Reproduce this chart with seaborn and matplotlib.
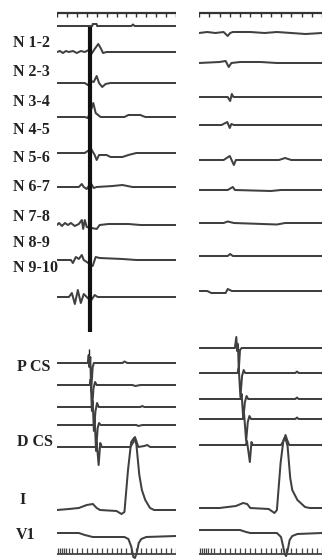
import numpy as np
import pandas as pd
import matplotlib
matplotlib.use("Agg")
import matplotlib.pyplot as plt
import seaborn as sns

# ---- data: time (ms) / deflection (arbitrary units, + is up) ----
# His-bundle / N-channels, left beat (paced) and right beat
left_n = [
    [(0, 0), (178, 0), (180, 2), (200, 2), (202, 0), (375, 0), (383, 1.5), (392, 0), (600, 0)],
    [(0, 0), (15, 1), (30, -1), (45, 1), (60, 0), (80, 1), (100, -1), (120, 1), (140, 0), (160, 2), (170, -3),
     (190, 3), (208, 8), (220, 4), (232, -1), (250, 0), (600, 0)],
    [(0, 0), (140, 0), (155, -2), (170, 2), (185, 1), (200, 7), (212, 0), (228, -4), (245, -1), (270, 0), (600, 0)],
    [(0, 0), (140, 0), (155, -1), (170, 6), (183, 14), (195, 4), (207, 2), (220, 0), (340, 0), (360, 2),
     (420, 2), (445, 0), (600, 0)],
    [(0, 0), (140, 0), (155, 2), (172, 4), (190, -2), (200, -7), (212, -2), (250, -2), (270, -4), (330, -4),
     (360, -2), (400, 0), (600, 0)],
    [(0, 0), (110, 0), (125, 3), (135, 0), (150, -2), (170, 4), (185, -1), (200, 0), (280, 1), (330, 2),
     (380, 0), (600, 0)],
    [(0, 0), (10, 2), (25, -1), (40, 2), (55, 0), (70, 2), (90, -1), (110, 1), (125, 5), (132, -4), (140, 5),
     (150, -2), (200, -4), (215, 0), (260, 1), (360, 1), (420, 0), (600, 0)],
    [(0, 0), (70, 0), (80, -3), (95, 3), (110, 1), (125, 5), (135, 0), (180, -6), (195, 3), (215, 2),
     (330, 1), (400, 0), (600, 0)],
    [(0, 0), (60, 0), (75, 4), (90, -7), (105, 7), (120, -6), (135, 3), (150, 0), (170, -4), (190, 2),
     (205, 0), (600, 0)],
]
right_n = [
    [(0, 0), (40, 1), (80, 0), (120, 1), (140, -3), (152, 0), (165, 1), (250, 1), (320, 0), (380, 1),
     (450, 0), (520, -1), (600, 0)],
    [(0, 0), (100, 1), (130, 2), (145, -4), (158, 0), (200, 1), (300, 1), (380, 0), (600, 0)],
    [(0, 0), (140, 0), (152, -4), (160, 3), (168, 0), (600, 0)],
    [(0, 0), (110, 0), (138, 3), (150, -3), (158, 1), (170, 0), (600, 0)],
    [(0, 0), (120, 0), (150, 4), (170, -5), (180, 0), (390, 0), (420, 2), (450, 0), (600, 0)],
    [(0, 0), (140, 0), (165, 3), (175, 0), (350, -1), (400, 0), (600, 0)],
    [(0, 0), (120, 0), (140, 1.5), (170, 0), (380, -1.5), (420, 0), (600, 0)],
    [(0, 0), (140, 0), (152, 2), (165, 0), (600, 0)],
    [(0, 0), (40, 0), (60, -2), (130, -2), (140, 2), (160, 0), (600, 0)],
]

# coronary sinus, proximal -> distal
left_cs = [
    [(0, 0), (155, 0), (160, 8), (163, -4), (168, 6), (172, -28), (180, -4), (186, 0), (330, 0), (340, 1.5),
     (355, 0), (600, 0)],
    [(0, 0), (165, 0), (170, 6), (176, -26), (184, -3), (192, 3), (200, 0), (380, 0), (395, -1), (420, 0), (600, 0)],
    [(0, 0), (175, 0), (180, 6), (186, -24), (194, -4), (202, 4), (210, 0), (420, 0), (430, 1), (440, 0), (600, 0)],
    [(0, 0), (185, 0), (190, 6), (197, -26), (205, -3), (212, 2), (220, 0), (400, 0), (410, -1), (430, 0), (600, 0)],
    [(0, 0), (195, 0), (200, 5), (210, -18), (218, 4), (226, 0), (370, 0), (385, 5), (393, 10), (400, 6),
     (410, 0), (440, 1), (455, 2), (470, 0), (600, 0)],
]
right_cs = [
    [(0, 0), (175, 0), (182, 11), (186, -3), (190, 4), (194, -22), (200, -2), (208, 0), (600, 0)],
    [(0, 0), (188, 0), (194, 5), (202, -24), (210, -3), (218, 3), (225, 0), (470, 0), (478, 1.5), (486, 0), (600, 0)],
    [(0, 0), (203, 0), (208, 5), (216, -20), (224, -3), (232, 3), (240, 0), (470, 0), (478, 1.5), (486, 0), (600, 0)],
    [(0, 0), (215, 0), (220, 5), (230, -22), (238, -3), (246, 3), (254, 0), (470, 0), (478, 1.5), (486, 0), (600, 0)],
    [(0, 0), (228, 0), (234, 4), (248, -17), (256, 3), (262, 0), (400, 0), (415, 5), (422, 10), (430, 5),
     (440, 0), (600, 0)],
]

# surface ECG leads I and V1
left_lead_i = [(0, 0), (60, 1), (110, 2), (150, 5), (181, 6), (200, 2), (217, 0), (300, -1), (325, -4),
               (340, -2), (358, 40), (374, 68), (388, 72), (400, 66), (415, 35), (428, 20), (445, 10),
               (469, 2), (490, 0), (600, 0)]
left_v1 = [(0, 2), (110, 2), (140, 0), (180, -2), (340, -2), (360, -4), (375, -12), (385, -22), (393, -23),
           (402, -18), (412, -8), (425, -4), (450, -2), (600, -1)]
right_lead_i = [(0, 0), (100, 0), (180, 2), (215, 5), (235, 4), (250, 0), (340, -1), (368, -5), (380, -2),
                (398, 45), (412, 68), (420, 71), (432, 62), (445, 30), (455, 18), (480, 8), (517, 1),
                (540, 0), (600, 0)]
right_v1 = [(0, 2), (200, 2), (230, 0), (250, -1), (380, -1), (400, -5), (410, -14), (418, -22), (425, -24),
            (433, -18), (442, -8), (455, -4), (480, -2), (600, -1)]

pace_spike_ms = 166
top_tick_ms = [0, 50, 100, 150, 200, 250, 300, 350, 400, 450, 500, 550, 600]
bottom_tick_ms = [5, 15, 25, 35, 45, 60, 75, 100, 125, 150, 175, 200, 225, 250, 275, 300, 325, 350,
                  375, 400, 425, 450, 475, 500, 525, 550, 575, 600]

n_labels = ["N 1-2", "N 2-3", "N 3-4", "N 4-5", "N 5-6", "N 6-7", "N 7-8", "N 8-9", "N 9-10"]
lower_labels = ["P CS", "D CS", "I", "V1"]

# ---- layout (pixel rows from top) ----
W, H = 323, 559
left_n_rows = [26, 52, 83, 117, 153, 187, 225, 260, 297]
right_n_rows = [33, 63, 97, 125, 160, 190, 223, 256, 291]
left_cs_rows = [363, 385, 407, 425, 447]
right_cs_rows = [348, 373, 399, 419, 445]
left_ecg_rows = [510, 535]
right_ecg_rows = [508, 532]
n_label_y = [43, 72, 102, 130, 158, 187, 217, 243, 268]
lower_label_pos = [(17, 367), (17, 442), (19, 500), (16, 535)]


def to_frame(traces, rows):
    parts = []
    for k, (tr, base) in enumerate(zip(traces, rows)):
        d = pd.DataFrame(tr, columns=["t", "amp"])
        d["y"] = base - d["amp"]
        d["ch"] = k
        parts.append(d)
    return pd.concat(parts, ignore_index=True)


sns.set_theme(style="white")
fig = plt.figure(figsize=(W / 100, H / 100), dpi=100)
ax_l = fig.add_axes([57 / W, 0, 119 / W, 1])
ax_r = fig.add_axes([199 / W, 0, 123 / W, 1])

trace_col = "#404040"
panels = [
    (ax_l, left_n, left_n_rows, left_cs, left_cs_rows, [left_lead_i, left_v1], left_ecg_rows),
    (ax_r, right_n, right_n_rows, right_cs, right_cs_rows, [right_lead_i, right_v1], right_ecg_rows),
]
for ax, n_tr, n_rows, cs_tr, cs_rows, ecg_tr, ecg_rows in panels:
    df = pd.concat([to_frame(n_tr, n_rows).assign(grp="n"),
                    to_frame(cs_tr, cs_rows).assign(grp="cs"),
                    to_frame(ecg_tr, ecg_rows).assign(grp="ecg")], ignore_index=True)
    df["unit"] = df["grp"] + df["ch"].astype(str)
    sns.lineplot(data=df, x="t", y="y", units="unit", estimator=None, sort=False,
                 color=trace_col, lw=1.45, ax=ax, legend=False)
    # timing marker lines
    ax.hlines(13, 0, 600, color="#333333", lw=1.6)
    ax.vlines(top_tick_ms, 13, 17, color="#333333", lw=1.0)
    ax.hlines(554, 0, 600, color="#444444", lw=1.3)
    ax.vlines(bottom_tick_ms, 548, 554, color="#444444", lw=0.9)
    ax.set_xlim(0, 600)
    ax.set_ylim(H, 0)
    ax.axis("off")

# pacing artefact through the N-channels of the first beat
ax_l.vlines(pace_spike_ms, left_n_rows[0] + 1, 332, color="#111111", lw=3.0)
ax_l.vlines(pace_spike_ms - 6, left_cs_rows[0] - 14, left_cs_rows[0] - 8, color="#222222", lw=1.0)

lab_kw = dict(family="Liberation Serif", weight="bold", fontsize=11.5, color="#222222",
              ha="left", va="center")
for lab, y in zip(n_labels, n_label_y):
    fig.text(13 / W, 1 - y / H, lab, **lab_kw)
for lab, (x, y) in zip(lower_labels, lower_label_pos):
    fig.text(x / W, 1 - y / H, lab, **lab_kw)

fig.savefig("out.png", dpi=100)
